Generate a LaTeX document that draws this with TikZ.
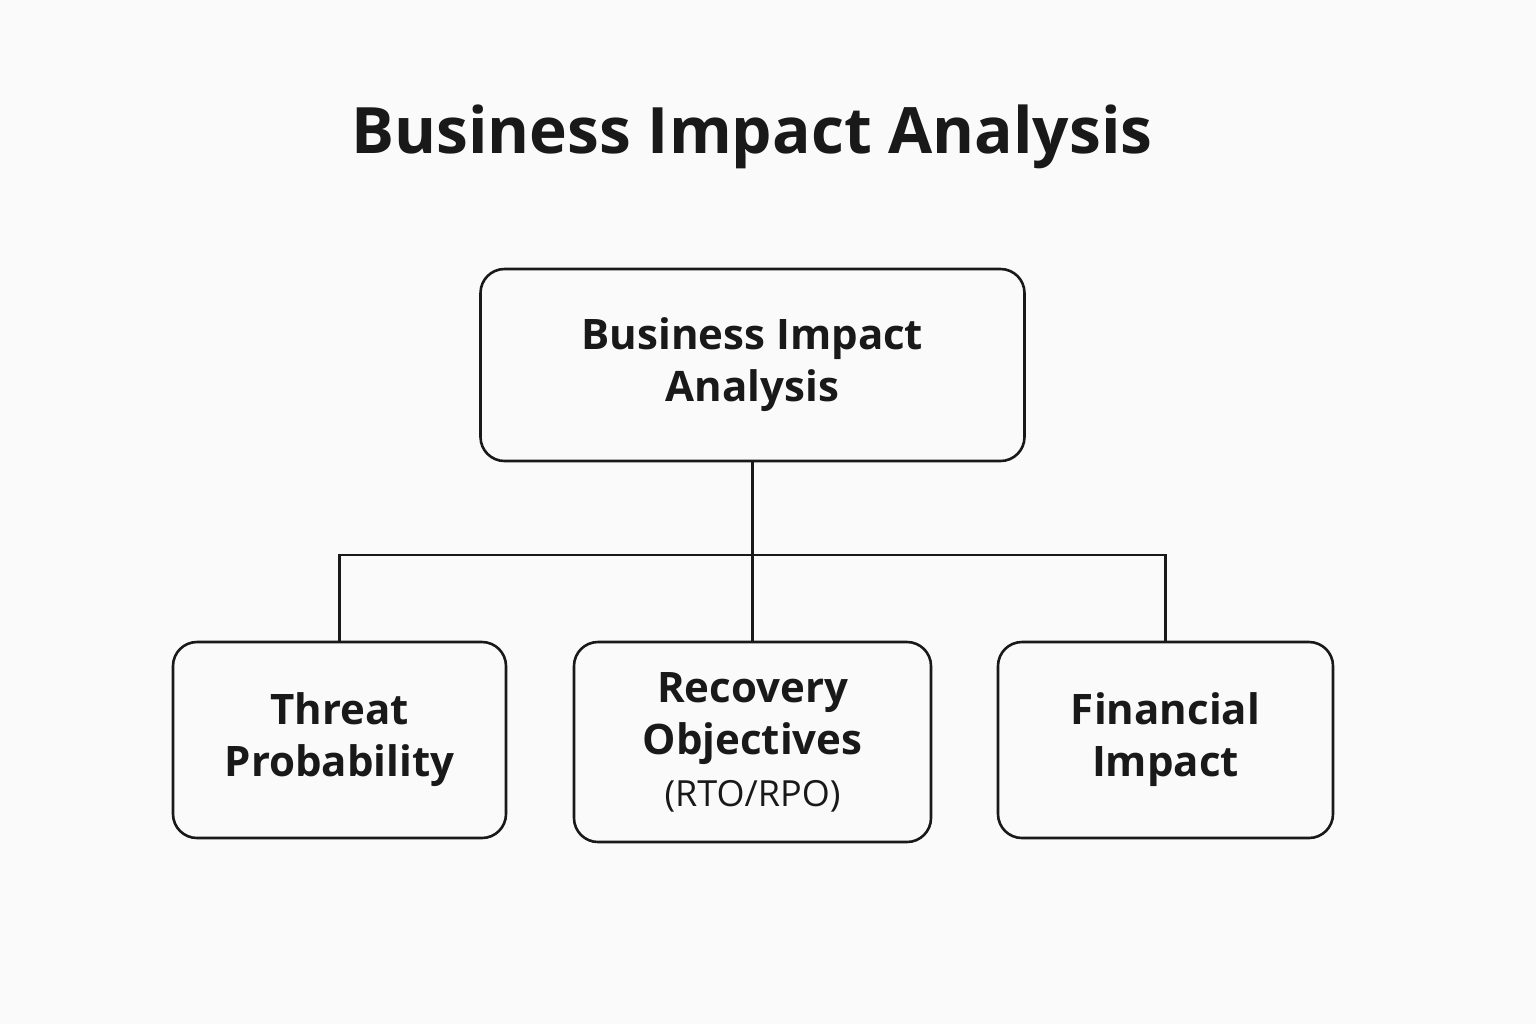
\documentclass[tikz,border=0pt]{standalone}
\usepackage{fontspec}
\setmainfont{Open Sans}
\begin{document}
\begin{tikzpicture}[x=0.5pt,y=-0.5pt,
  box/.style={draw=black!90,line width=1.3pt,rounded corners=12pt,inner sep=0pt,align=center,font=\fontsize{21}{26}\selectfont\bfseries,text=black!90},
  conn/.style={draw=black!90,line width=1.2pt}]
\fill[white!98!black] (0,0) rectangle (1536,1024);
\useasboundingbox (0,0) rectangle (1536,1024);
\node[font=\fontsize{32}{38}\selectfont\bfseries,text=black!90] (title) at (752,137) {Business Impact Analysis};
\node[box,minimum width=272pt,minimum height=96pt] (top) at (752.5,365) {Business Impact\\Analysis};
\node[box,minimum width=166.5pt,minimum height=98pt] (l) at (339.5,740) {Threat\\Probability};
\node[box,minimum width=178.5pt,minimum height=100pt] (m) at (752.5,742) {Recovery\\Objectives\\{\mdseries\fontsize{18}{24}\selectfont (RTO/RPO)}};
\node[box,minimum width=167.5pt,minimum height=98pt] (r) at (1165.5,740) {Financial\\Impact};
\coordinate (j) at (752,555);
\draw[conn] (top.south) -- (m.north);
\draw[conn] (l.north) -- (l.north |- j) -- (r.north |- j) -- (r.north);
\end{tikzpicture}
\end{document}
